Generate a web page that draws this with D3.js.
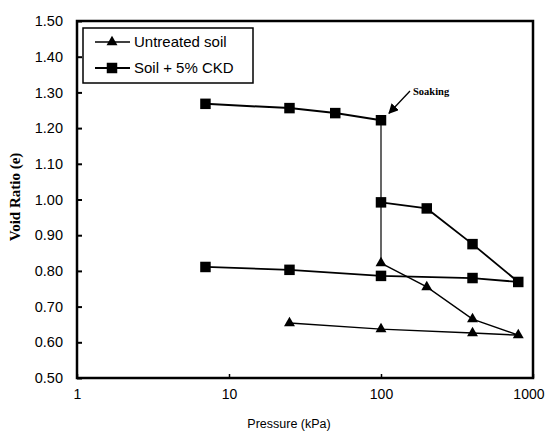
<!DOCTYPE html>
<html>
<head>
<meta charset="utf-8">
<script src="https://cdn.jsdelivr.net/npm/d3@7"></script>
<style>
  html, body { margin: 0; padding: 0; background: #fff; }
  svg { display: block; }
</style>
</head>
<body>
<svg id="chart" width="545" height="432"></svg>
<script>
// Consolidation curves: void ratio vs. applied pressure (log scale)

// Untreated soil (loaded from 100 kPa after soaking, then unloaded)
const untreatedPressure = [100, 200, 400, 800, 400, 100, 25];
const untreatedVoid     = [0.822, 0.755, 0.665, 0.62, 0.626, 0.637, 0.654];

// Soil + 5% CKD, loading before soaking
const ckdDryPressure = [7, 25, 50, 100];
const ckdDryVoid     = [1.268, 1.256, 1.242, 1.222];

// Soil + 5% CKD, after soaking: loading then unloading
const ckdWetPressure = [100, 200, 400, 800, 400, 100, 25, 7];
const ckdWetVoid     = [0.992, 0.975, 0.875, 0.769, 0.78, 0.786, 0.803, 0.811];

// Soaking step at constant pressure
const soakPressure = [100, 100];
const soakVoid     = [1.222, 0.822];

const xTicks = [1, 10, 100, 1000];
const yTicks = [0.5, 0.6, 0.7, 0.8, 0.9, 1.0, 1.1, 1.2, 1.3, 1.4, 1.5];

const legendLabels = ["Untreated soil", "Soil + 5% CKD"];

const svg = d3.select("#chart");
const plotLeft = 77, plotRight = 533, plotTop = 21, plotBottom = 378;

const x = d3.scaleLog().domain([1, 1000]).range([plotLeft, plotRight]);
const y = d3.scaleLinear().domain([0.5, 1.5]).range([plotBottom, plotTop]);

const sans = "Arial, 'Liberation Sans', sans-serif";
const serif = "'Times New Roman', 'Liberation Serif', serif";

// Y axis ticks and labels
const yAxis = d3.axisLeft(y).tickValues(yTicks).tickFormat(d3.format(".2f"))
  .tickSizeInner(-5).tickSizeOuter(0).tickPadding(14);
const gy = svg.append("g").attr("transform", `translate(${plotLeft},0)`).call(yAxis);
gy.select(".domain").remove();
gy.selectAll("line").attr("stroke", "#000").attr("stroke-width", 2);
gy.selectAll("text").attr("font-family", sans).attr("font-size", 14.5).attr("fill", "#000");

// X axis ticks and labels
const xAxis = d3.axisBottom(x).tickValues(xTicks).tickFormat(d3.format("d"))
  .tickSizeInner(-4).tickSizeOuter(0).tickPadding(11);
const gx = svg.append("g").attr("transform", `translate(0,${plotBottom})`).call(xAxis);
gx.select(".domain").remove();
gx.selectAll("line").attr("stroke", "#000").attr("stroke-width", 1.5);
gx.selectAll("text").attr("font-family", sans).attr("font-size", 14).attr("fill", "#000");
// keep the last decade label inside the page
gx.selectAll(".tick").filter(d => d === xTicks[xTicks.length - 1])
  .select("text").attr("text-anchor", "end").attr("x", 544 - plotRight);

// Plot frame
svg.append("rect")
  .attr("x", plotLeft).attr("y", plotTop)
  .attr("width", plotRight - plotLeft).attr("height", plotBottom - plotTop)
  .attr("fill", "none").attr("stroke", "#000").attr("stroke-width", 2.5);

// Axis titles
svg.append("text")
  .attr("x", 289).attr("y", 428)
  .attr("text-anchor", "middle")
  .attr("font-family", sans).attr("font-size", 12.5)
  .text("Pressure (kPa)");

svg.append("text")
  .attr("transform", `translate(20,197) rotate(-90)`)
  .attr("text-anchor", "middle")
  .attr("font-family", serif).attr("font-weight", "bold").attr("font-size", 15)
  .text("Void Ratio (e)");

const line = d3.line().x(d => x(d[0])).y(d => y(d[1]));
const zip = (a, b) => a.map((v, i) => [v, b[i]]);

// Soaking drop
svg.append("path").datum(zip(soakPressure, soakVoid))
  .attr("d", line).attr("fill", "none").attr("stroke", "#000").attr("stroke-width", 1.2);

// Curves
svg.append("path").datum(zip(untreatedPressure, untreatedVoid))
  .attr("d", line).attr("fill", "none").attr("stroke", "#000").attr("stroke-width", 1.4);
svg.append("path").datum(zip(ckdDryPressure, ckdDryVoid))
  .attr("d", line).attr("fill", "none").attr("stroke", "#000").attr("stroke-width", 2);
svg.append("path").datum(zip(ckdWetPressure, ckdWetVoid))
  .attr("d", line).attr("fill", "none").attr("stroke", "#000").attr("stroke-width", 1.8);

const tri = d3.symbol().type(d3.symbolTriangle).size(52);
const sq = d3.symbol().type(d3.symbolSquare).size(110);

svg.append("g").selectAll("path")
  .data(zip(ckdDryPressure, ckdDryVoid).concat(zip(ckdWetPressure, ckdWetVoid)))
  .join("path")
  .attr("transform", d => `translate(${x(d[0])},${y(d[1])})`)
  .attr("d", sq).attr("fill", "#000");

svg.append("g").selectAll("path")
  .data(zip(untreatedPressure, untreatedVoid))
  .join("path")
  .attr("transform", d => `translate(${x(d[0])},${y(d[1])})`)
  .attr("d", tri).attr("fill", "#000");

// Soaking annotation
const soakAt = [x(ckdDryPressure[3]), y(ckdDryVoid[3])];
svg.append("defs").append("marker")
  .attr("id", "arrow").attr("viewBox", "0 0 10 10")
  .attr("refX", 9).attr("refY", 5)
  .attr("markerWidth", 10).attr("markerHeight", 10)
  .attr("markerUnits", "userSpaceOnUse")
  .attr("orient", "auto")
  .append("path").attr("d", "M0,0 L10,5 L0,10 z").attr("fill", "#000");
svg.append("line")
  .attr("x1", 410).attr("y1", 91)
  .attr("x2", soakAt[0] + 8).attr("y2", soakAt[1] - 7)
  .attr("stroke", "#000").attr("stroke-width", 1.3)
  .attr("marker-end", "url(#arrow)");
svg.append("text")
  .attr("x", 413).attr("y", 95)
  .attr("font-family", serif).attr("font-weight", "bold").attr("font-size", 10.5)
  .text("Soaking");

// Legend
const lg = svg.append("g");
lg.append("rect")
  .attr("x", 83).attr("y", 28).attr("width", 170).attr("height", 55)
  .attr("fill", "#fff").attr("stroke", "#000").attr("stroke-width", 1.5);
const legendRows = [
  { label: legendLabels[0], sym: tri, w: 1.4, yy: 42 },
  { label: legendLabels[1], sym: sq, w: 2, yy: 68 }
];
legendRows.forEach(r => {
  lg.append("line").attr("x1", 95).attr("x2", 130).attr("y1", r.yy).attr("y2", r.yy)
    .attr("stroke", "#000").attr("stroke-width", r.w);
  lg.append("path").attr("transform", `translate(112,${r.yy})`).attr("d", r.sym).attr("fill", "#000");
  lg.append("text").attr("x", 134).attr("y", r.yy + 5)
    .attr("font-family", sans).attr("font-size", 15).text(r.label);
});
</script>
</body>
</html>
